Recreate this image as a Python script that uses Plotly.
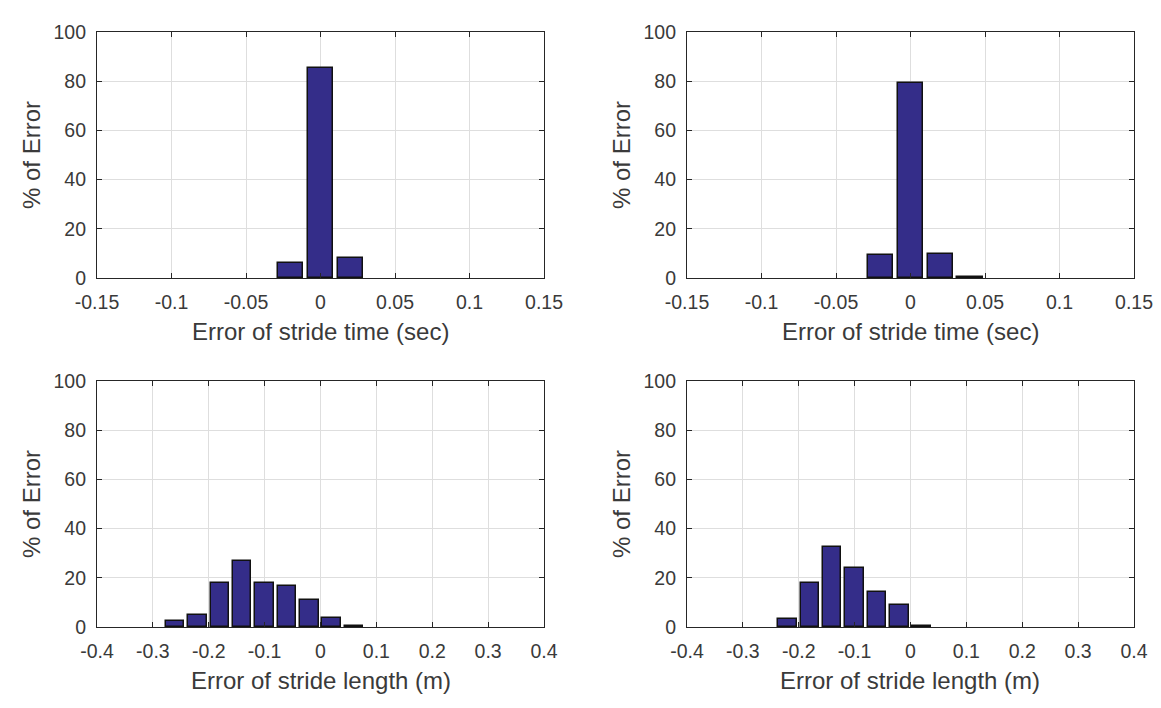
import plotly.graph_objects as go

# ---- data ----
time_bins_a = [-0.02, 0.0, 0.02]
time_pct_a = [6.0, 85.5, 8.0]
time_bins_b = [-0.02, 0.0, 0.02, 0.04]
time_pct_b = [9.2, 79.3, 9.7, 0.6]

length_bins_a = [-0.26, -0.22, -0.18, -0.14, -0.10, -0.06, -0.02, 0.02, 0.06]
length_pct_a = [2.4, 4.9, 17.8, 27.0, 17.8, 16.5, 11.0, 3.7, 0.6]

length_bins_b = [-0.22, -0.18, -0.14, -0.10, -0.06, -0.02, 0.02]
length_pct_b = [3.1, 17.9, 32.4, 23.9, 14.2, 9.1, 0.5]

y_ticks = [0, 20, 40, 60, 80, 100]
y_labels = ["0", "20", "40", "60", "80", "100"]
time_ticks = [-0.15, -0.1, -0.05, 0, 0.05, 0.1, 0.15]
time_labels = ["-0.15", "-0.1", "-0.05", "0", "0.05", "0.1", "0.15"]
len_ticks = [-0.4, -0.3, -0.2, -0.1, 0, 0.1, 0.2, 0.3, 0.4]
len_labels = ["-0.4", "-0.3", "-0.2", "-0.1", "0", "0.1", "0.2", "0.3", "0.4"]

y_title = "% of Error"
x_title_time = "Error of stride time (sec)"
x_title_len = "Error of stride length (m)"

# ---- layout constants ----
OFF = 8  # page body margin
W, H = 1161 - OFF - 4, 708 - 2 * OFF
BAR = "#342D89"
TXT = "#3a3a3a"
FONT = "Liberation Sans, Arial, sans-serif"

def fx(px):
    return (px - OFF) / W

def fy(py):
    return 1 - (py - OFF) / H

cols = [(97, 544), (687, 1134)]
rows = [(32, 278), (381, 627)]

fig = go.Figure()

panels = [
    (0, 0, time_bins_a, time_pct_a, 0.017, time_ticks, time_labels, [-0.15, 0.15], x_title_time),
    (0, 1, time_bins_b, time_pct_b, 0.017, time_ticks, time_labels, [-0.15, 0.15], x_title_time),
    (1, 0, length_bins_a, length_pct_a, 0.033, len_ticks, len_labels, [-0.4, 0.4], x_title_len),
    (1, 1, length_bins_b, length_pct_b, 0.033, len_ticks, len_labels, [-0.4, 0.4], x_title_len),
]

annotations = []
for i, (r, c, xb, yv, wd, tv, tt, rng, xt) in enumerate(panels):
    n = "" if i == 0 else str(i + 1)
    fig.add_trace(go.Bar(
        x=xb, y=yv, width=wd,
        marker=dict(color=BAR, line=dict(color="#111111", width=1.5)),
        xaxis="x" + n, yaxis="y" + n, showlegend=False,
    ))
    x0, x1 = cols[c]
    y0, y1 = rows[r]
    axis_common = dict(
        showline=True, linecolor="#262626", linewidth=1.2, mirror="ticks",
        ticks="inside", ticklen=5, tickcolor="#262626",
        showgrid=True, gridcolor="#dedede", gridwidth=1,
        zeroline=False, tickfont=dict(family=FONT, size=19.5, color=TXT),
        fixedrange=True, automargin=False, ticklabeloverflow="allow",
    )
    fig.update_layout(**{
        "xaxis" + n: dict(axis_common, domain=[fx(x0), fx(x1)], range=rng,
                          tickvals=tv, ticktext=tt, anchor="y" + n,
                          ticklabelstandoff=6),
        "yaxis" + n: dict(axis_common, domain=[fy(y1), fy(y0)], range=[0, 100],
                          tickvals=y_ticks, ticktext=y_labels, anchor="x" + n,
                          ticklabelstandoff=6),
    })
    annotations.append(dict(
        text=xt, xref="paper", yref="paper",
        x=fx((x0 + x1) / 2), y=fy(y1 + 53), xanchor="center", yanchor="middle",
        showarrow=False, font=dict(family=FONT, size=24, color=TXT),
    ))
    annotations.append(dict(
        text=y_title, xref="paper", yref="paper", textangle=-90,
        x=fx(x0 - 66), y=fy((y0 + y1) / 2), xanchor="center", yanchor="middle",
        showarrow=False, font=dict(family=FONT, size=24, color=TXT),
    ))

fig.update_layout(
    width=W, height=H, margin=dict(l=0, r=0, t=0, b=0, pad=0),
    paper_bgcolor="white", plot_bgcolor="white",
    annotations=annotations, bargap=0,
)

fig.write_html("out.html")
